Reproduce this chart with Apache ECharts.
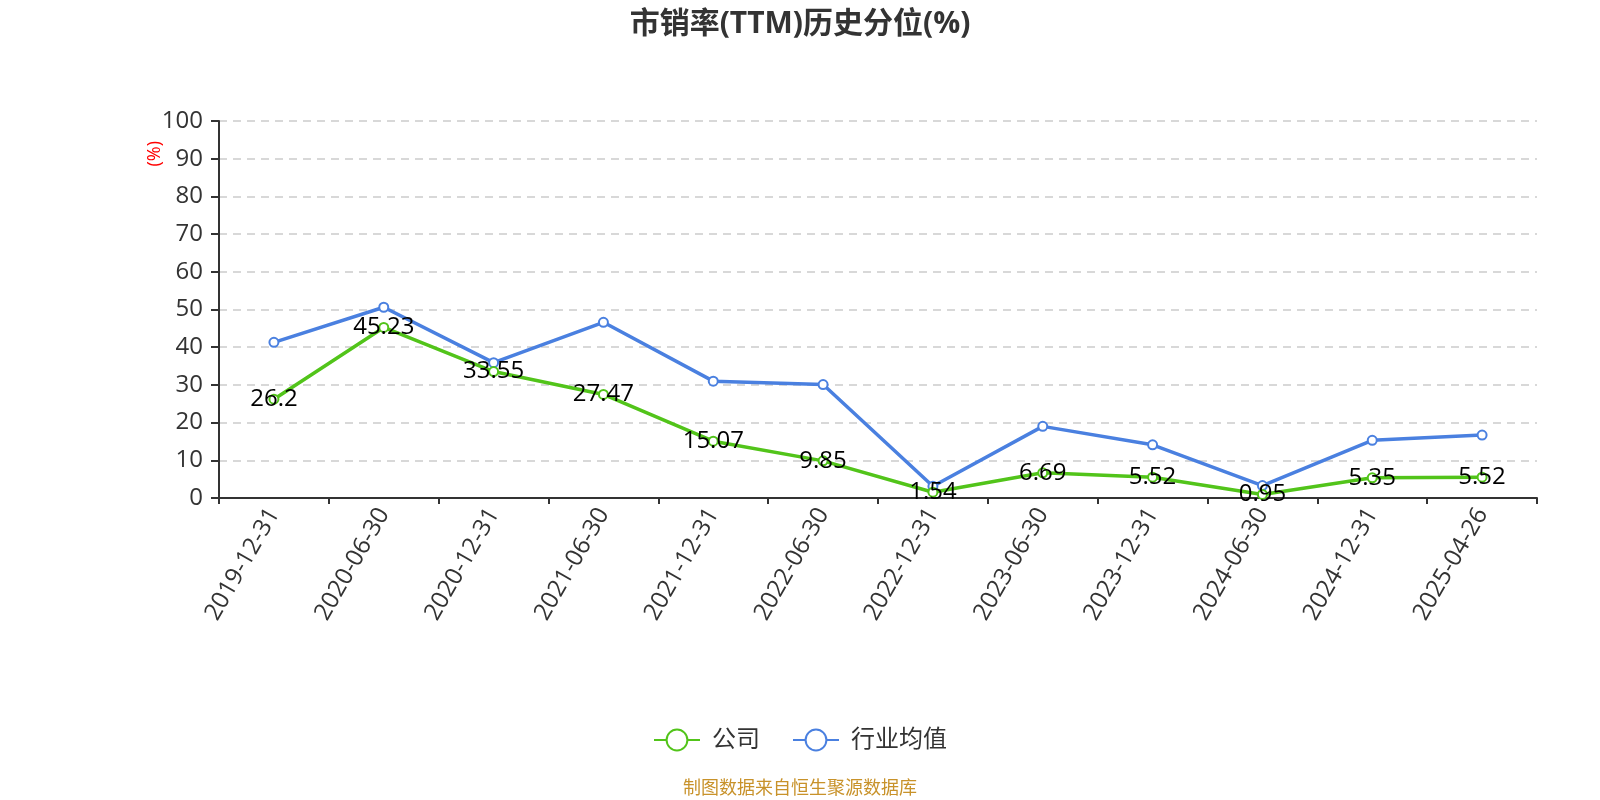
<!DOCTYPE html>
<html><head><meta charset="utf-8">
<script src="https://cdn.jsdelivr.net/npm/echarts@6/dist/echarts.min.js"></script>
<style>html,body{margin:0;padding:0;background:#fff;}#c{width:1600px;height:800px;}</style>
</head><body><div id="c"></div>
<script>
var categories = ['2019-12-31','2020-06-30','2020-12-31','2021-06-30','2021-12-31','2022-06-30','2022-12-31','2023-06-30','2023-12-31','2024-06-30','2024-12-31','2025-04-26'];
var companyValues = [26.2, 45.23, 33.55, 27.47, 15.07, 9.85, 1.54, 6.69, 5.52, 0.95, 5.35, 5.52];
var industryValues = [41.3, 50.6, 35.9, 46.6, 31.0, 30.1, 3.1, 19.0, 14.1, 3.3, 15.3, 16.7];
var FONT = '"Open Sans", "Noto Sans CJK SC", sans-serif';
var chart = echarts.init(document.getElementById('c'));
chart.setOption({
  animation: false,
  textStyle: {fontFamily: FONT},
  title: {text: '市销率(TTM)历史分位(%)', left: 'center', top: 4,
    textStyle: {fontSize: 30, fontWeight: 'bold', color: '#333', fontFamily: FONT}},
  grid: {left: 219, right: 63, top: 121, bottom: 302},
  legend: {bottom: 43, left: 'center', itemWidth: 46, itemHeight: 26, itemGap: 32,
    textStyle: {fontSize: 24, color: '#333', fontFamily: FONT, padding: [0, 0, 0, 7]},
    data: [{name: '公司'}, {name: '行业均值'}]},
  xAxis: {type: 'category', data: categories, boundaryGap: true,
    axisLine: {lineStyle: {color: '#333', width: 2}},
    axisTick: {show: true, length: 6, lineStyle: {color: '#333', width: 2}},
    axisLabel: {rotate: 60, fontSize: 24, color: '#333', margin: 12, interval: 0, fontFamily: FONT}},
  yAxis: {type: 'value', min: 0, max: 100, interval: 10,
    axisLine: {show: true, lineStyle: {color: '#333', width: 2}},
    axisTick: {show: true, length: 8, lineStyle: {color: '#333', width: 2}},
    axisLabel: {fontSize: 24, color: '#333', margin: 16, fontFamily: FONT},
    splitLine: {lineStyle: {color: '#ccc', type: [8, 6], width: 1.5}}},
  graphic: [
    {type: 'text', left: 146, top: 141, rotation: Math.PI / 2,
      style: {text: '(%)', fill: '#ff0000', font: '18px ' + FONT}},
    {type: 'text', left: 'center', bottom: 2,
      style: {text: '制图数据来自恒生聚源数据库', fill: '#c8922a', font: '18px ' + FONT}}
  ],
  series: [
    {name: '公司', type: 'line', data: companyValues, symbol: 'emptyCircle', symbolSize: 9,
      itemStyle: {color: '#52c41a'}, lineStyle: {width: 3.5, color: '#52c41a'},
      label: {show: true, position: 'inside', color: '#000', fontSize: 24, fontFamily: FONT},
      z: 3},
    {name: '行业均值', type: 'line', data: industryValues, symbol: 'emptyCircle', symbolSize: 9,
      itemStyle: {color: '#4a80e0'}, lineStyle: {width: 3.5, color: '#4a80e0'}, z: 2}
  ]
});
</script></body></html>
